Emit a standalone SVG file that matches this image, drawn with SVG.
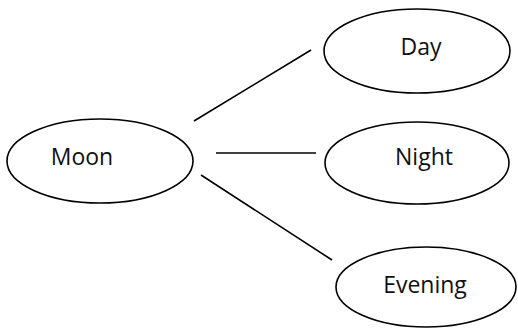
<svg xmlns="http://www.w3.org/2000/svg" width="518" height="329" viewBox="0 0 518 329">
<style>
.n ellipse{fill:#fff;stroke:#000;stroke-width:1.6}
.n text{font-family:"Open Sans","Liberation Sans",sans-serif;font-size:23px;fill:#111;text-anchor:middle}
.c line{stroke:#000;stroke-width:1.6}
</style>
<rect width="518" height="329" fill="#fff"/>
<g class="c" id="connectors">
<line x1="194" y1="121" x2="311" y2="50"/>
<line x1="216" y1="153" x2="316" y2="153"/>
<line x1="201" y1="175" x2="332" y2="260"/>
</g>
<g class="n" id="moon"><ellipse cx="100" cy="161" rx="93" ry="42"/><text x="82" y="165">Moon</text></g>
<g class="n" id="day"><ellipse cx="417" cy="51" rx="93" ry="42"/><text x="421" y="55">Day</text></g>
<g class="n" id="night"><ellipse cx="417" cy="163" rx="92" ry="41"/><text x="424" y="165">Night</text></g>
<g class="n" id="evening"><ellipse cx="426" cy="287" rx="90" ry="40"/><text x="425" y="293">Evening</text></g>
</svg>
